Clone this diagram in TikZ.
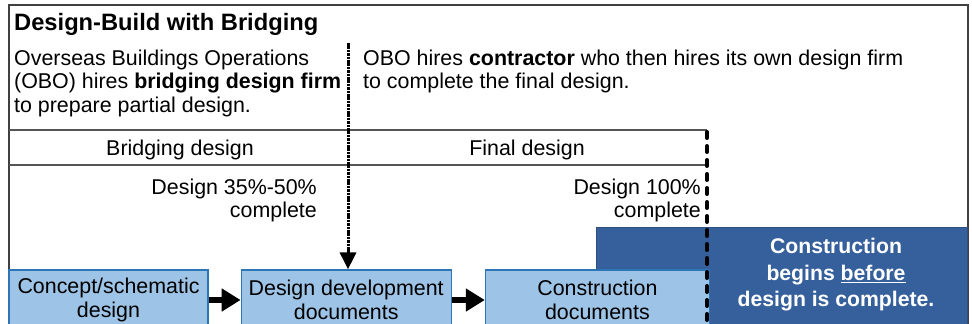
\documentclass[tikz,border=0pt]{standalone}
\usepackage{fontspec}
\setmainfont{Liberation Sans}
\usetikzlibrary{arrows.meta,positioning}

\definecolor{framegray}{HTML}{404040}
\definecolor{rulegray}{HTML}{555555}
\definecolor{phasefill}{HTML}{9DC3E6}
\definecolor{phaseedge}{HTML}{2E75B6}
\definecolor{buildfill}{HTML}{36609C}
\definecolor{buildedge}{HTML}{2F4F80}

\tikzset{
  body/.style={inner sep=0pt, font=\fontsize{21.4}{23.5}\selectfont},
  phasebox/.style={draw=phaseedge, fill=phasefill, line width=1.2pt, inner sep=0pt,
    minimum height=60pt, align=center, font=\fontsize{21.4}{24}\selectfont},
  buildbox/.style={draw=buildedge, fill=buildfill, line width=1.2pt, inner sep=0pt},
  flow/.style={line width=6.5pt, -{Triangle[length=19pt,width=22pt]}},
  handoff/.style={line width=3pt, dash pattern=on 2.6pt off 0.8pt, -{Triangle[length=17pt,width=16pt]}},
  finish/.style={line width=4pt, line cap=round, dash pattern=on 6pt off 8pt},
  rule/.style={rulegray, line width=1.3pt},
}

\begin{document}
\begin{tikzpicture}[x=1pt,y=-1pt]
	\useasboundingbox (0,0) rectangle (972,324);
	\clip (0,0) rectangle (972,324);
	% frame and heading
	\draw[framegray, line width=1.5pt] (9,5) rectangle (968,360);
	\node[body, anchor=base west, font=\bfseries\fontsize{23.7}{26}\selectfont] (title) at (14,30) {Design-Build with Bridging};
	\node[body, align=left, anchor=base west] (obo) at (14,112) {Overseas Buildings Operations\\(OBO) hires \textbf{bridging design firm}\\to prepare partial design.};
	\node[body, align=left, anchor=base west] (contractor) at (363,88.5) {OBO hires \textbf{contractor} who then hires its own design firm\\to complete the final design.};
	% design band
	\draw[rule] (9,130) -- (707,130);
	\draw[rule] (9,165) -- (707,165);
	\node[body, anchor=base] (bridging) at (180,155.5) {Bridging design};
	\node[body, anchor=base] (final) at (527,155.5) {Final design};
	\node[body, align=right, anchor=base east] (pct50) at (317,217.5) {Design 35\%-50\%\\complete};
	\node[body, align=right, anchor=base east] (pct100) at (701,217.5) {Design 100\%\\complete};
	% construction
	\node[buildbox, anchor=north west, minimum width=371pt, minimum height=120pt] (build) at (596,227) {};
	\node[inner sep=0pt, align=center, text=white, font=\bfseries\fontsize{21.2}{26.5}\selectfont] (buildtext) at (836,275) {Construction\\begins \underline{before}\\design is complete.};
	% phases
	\node[phasebox, minimum width=199pt] (concept) at (108.5,300) {Concept/schematic\\design};
	\node[phasebox, minimum width=210pt, right=32pt of concept] (devdocs) {Design development\\documents};
	\node[phasebox, minimum width=224pt, right=33pt of devdocs] (cdocs) {Construction\\documents};
	\draw[flow] (concept) -- (devdocs);
	\draw[flow] (devdocs) -- (cdocs);
	% hand-off to contractor
	\coordinate (handtop) at (348,43);
	\draw[handoff] (handtop) -- (handtop |- devdocs.north);
	\coordinate (donetop) at (707,132);
	\coordinate (donebot) at (707,340);
	\draw[finish] (donetop) -- (donebot);
\end{tikzpicture}
\end{document}
